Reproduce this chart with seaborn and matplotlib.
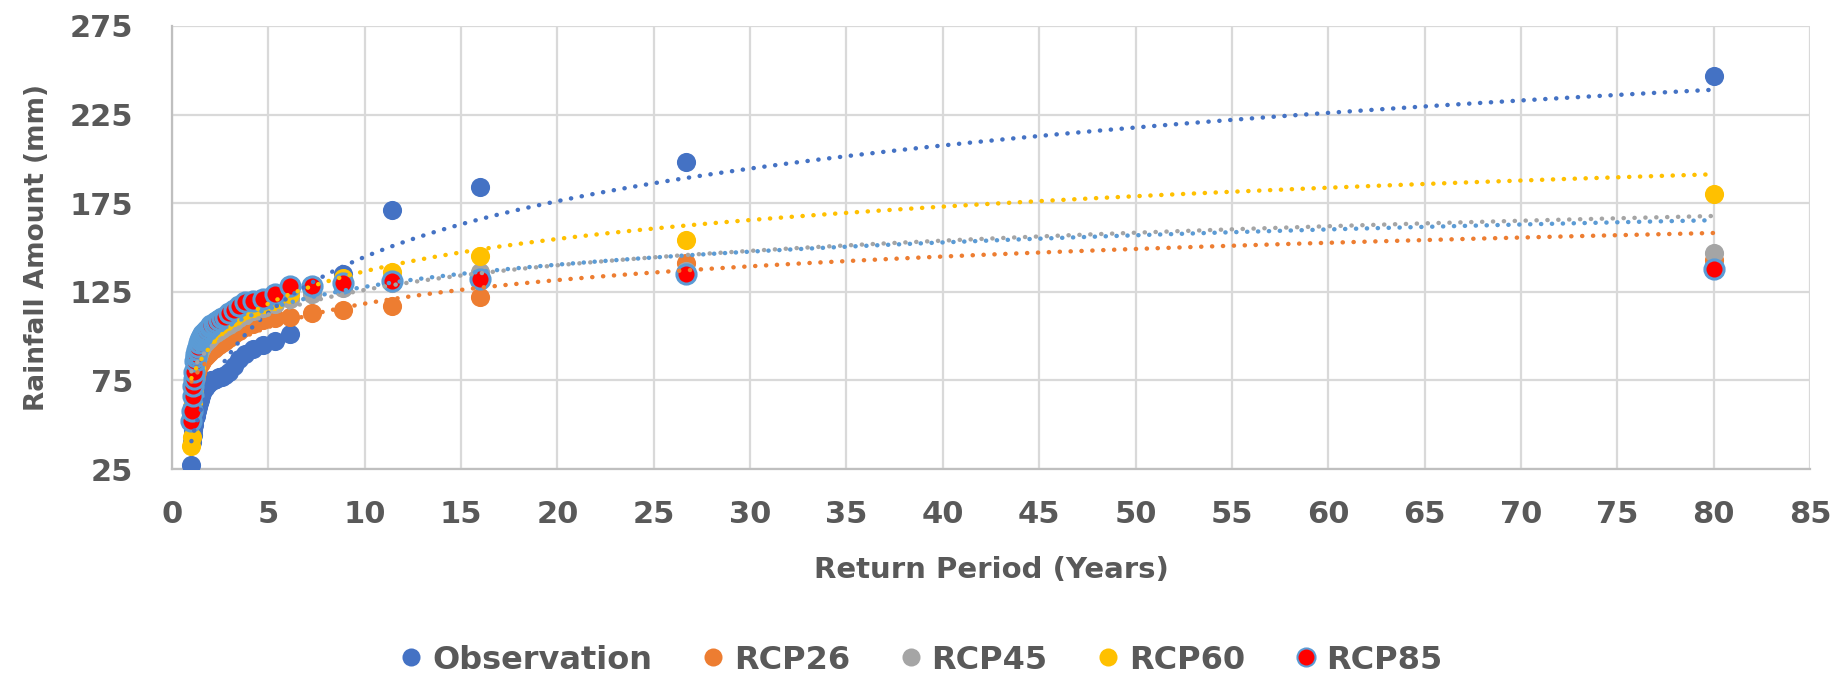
import numpy as np
import pandas as pd
import seaborn as sns
import matplotlib.pyplot as plt
from matplotlib.lines import Line2D

# return periods (Hazen plotting positions, 40 years of record), ascending
return_period = [1.01, 1.04, 1.07, 1.10, 1.13, 1.16, 1.19, 1.23, 1.27, 1.31,
                 1.36, 1.40, 1.46, 1.51, 1.57, 1.63, 1.70, 1.78, 1.86, 1.95,
                 2.05, 2.16, 2.29, 2.42, 2.58, 2.76, 2.96, 3.20, 3.48, 3.81,
                 4.21, 4.71, 5.33, 6.15, 7.27, 8.89, 11.43, 16.0, 26.67, 80.0]

observation = [27, 40, 44, 47, 50, 52, 54, 55, 57, 58,
               60, 62, 64, 66, 68, 70, 71, 72, 73, 74,
               75, 75, 76, 77, 77, 78, 80, 83, 87, 90,
               93, 95, 97, 101, 126, 135, 171, 184, 198, 247]
rcp26 = [55, 60, 64, 67, 70, 73, 75, 77, 79, 80,
         82, 83, 84, 85, 86, 87, 88, 89, 90, 91,
         92, 93, 94, 95, 96, 97, 99, 101, 103, 105,
         107, 109, 110, 111, 113, 115, 117, 122, 141, 143]
rcp45 = [54, 60, 65, 69, 73, 76, 79, 82, 84, 86,
         88, 90, 92, 93, 94, 95, 96, 97, 98, 99,
         100, 101, 102, 103, 104, 105, 106, 108, 110, 112,
         114, 116, 118, 121, 124, 127, 130, 136, 137, 147]
rcp60 = [38, 43, 58, 63, 68, 73, 78, 82, 85, 88,
         90, 92, 94, 96, 97, 98, 99, 100, 101, 102,
         103, 104, 105, 106, 107, 108, 110, 111, 113, 115,
         116, 118, 120, 124, 129, 133, 136, 145, 154, 180]
rcp85 = [52, 58, 66, 72, 76, 80, 86, 88, 90, 92,
         94, 96, 98, 99, 100, 101, 102, 103, 104, 105,
         106, 107, 108, 109, 110, 111, 113, 115, 117, 119,
         120, 121, 124, 128, 128, 130, 131, 132, 135, 138]

series = ['Observation', 'RCP26', 'RCP45', 'RCP60', 'RCP85']
values = [observation, rcp26, rcp45, rcp60, rcp85]
fill_colors = ['#4472C4', '#ED7D31', '#A5A5A5', '#FFC000', '#FF0000']
edge_colors = ['#4472C4', '#ED7D31', '#A5A5A5', '#FFC000', '#5B9BD5']
trend_colors = ['#4472C4', '#ED7D31', '#A5A5A5', '#FFC000', '#5B9BD5']

df = pd.DataFrame({'T': return_period * len(series),
                   'rain': sum(values, []),
                   'series': sum([[s] * len(return_period) for s in series], [])})

sns.set_style('white')
plt.rcParams['font.family'] = ['DejaVu Sans']
text_col = '#595959'

fig = plt.figure(figsize=(18.35, 6.84), dpi=100)
ax = fig.add_axes([0.0937, 0.3143, 0.8927, 0.6477])

for s, fc, ec in zip(series, fill_colors, edge_colors):
    sub = df[df['series'] == s]
    lw = 2.2 if s == 'RCP85' else 0
    sns.scatterplot(data=sub, x='T', y='rain', ax=ax, color=fc, edgecolor=ec,
                    linewidth=lw, s=190, zorder=3, legend=False)

# logarithmic trendlines (like excel)
t_line = np.linspace(min(return_period), max(return_period), 400)
for s, tc in zip(series, trend_colors):
    sub = df[df['series'] == s]
    a, b = np.polyfit(np.log(sub['T']), sub['rain'], 1)
    ax.plot(t_line, a * np.log(t_line) + b, color=tc, lw=3.2,
            linestyle=(0, (0.05, 2.4)), dash_capstyle='round', zorder=4)

ax.set_xlim(0, 85)
ax.set_ylim(25, 275)
ax.set_xticks(np.arange(0, 86, 5))
ax.set_yticks(np.arange(25, 276, 50))
ax.grid(True, color='#D9D9D9', lw=1.6)
ax.set_axisbelow(True)
for side in ['top', 'right']:
    ax.spines[side].set_visible(False)
for side in ['left', 'bottom']:
    ax.spines[side].set_color('#BFBFBF')
    ax.spines[side].set_linewidth(1.6)
ax.tick_params(axis='both', length=0, labelsize=22, colors=text_col)
ax.tick_params(axis='x', pad=22)
ax.tick_params(axis='y', pad=28)
for lab in ax.get_xticklabels() + ax.get_yticklabels():
    lab.set_fontweight('bold')

ax.set_xlabel('Return Period (Years)', fontsize=21, fontweight='bold', color=text_col, labelpad=20)
ax.set_ylabel('Rainfall Amount (mm)', fontsize=19, fontweight='bold', color=text_col, labelpad=14)

handles = [Line2D([], [], marker='o', ls='', markersize=13, markerfacecolor=fc,
                  markeredgecolor=ec, markeredgewidth=1.5 if s == 'RCP85' else 0)
           for s, fc, ec in zip(series, fill_colors, edge_colors)]
leg = fig.legend(handles, series, loc='center', bbox_to_anchor=(0.5, 0.035), ncol=5,
                 frameon=False, handletextpad=0.05, columnspacing=1.3, handlelength=1.2,
                 prop={'size': 23, 'weight': 'bold'})
for t in leg.get_texts():
    t.set_color(text_col)

fig.savefig('out.png', dpi=100)
